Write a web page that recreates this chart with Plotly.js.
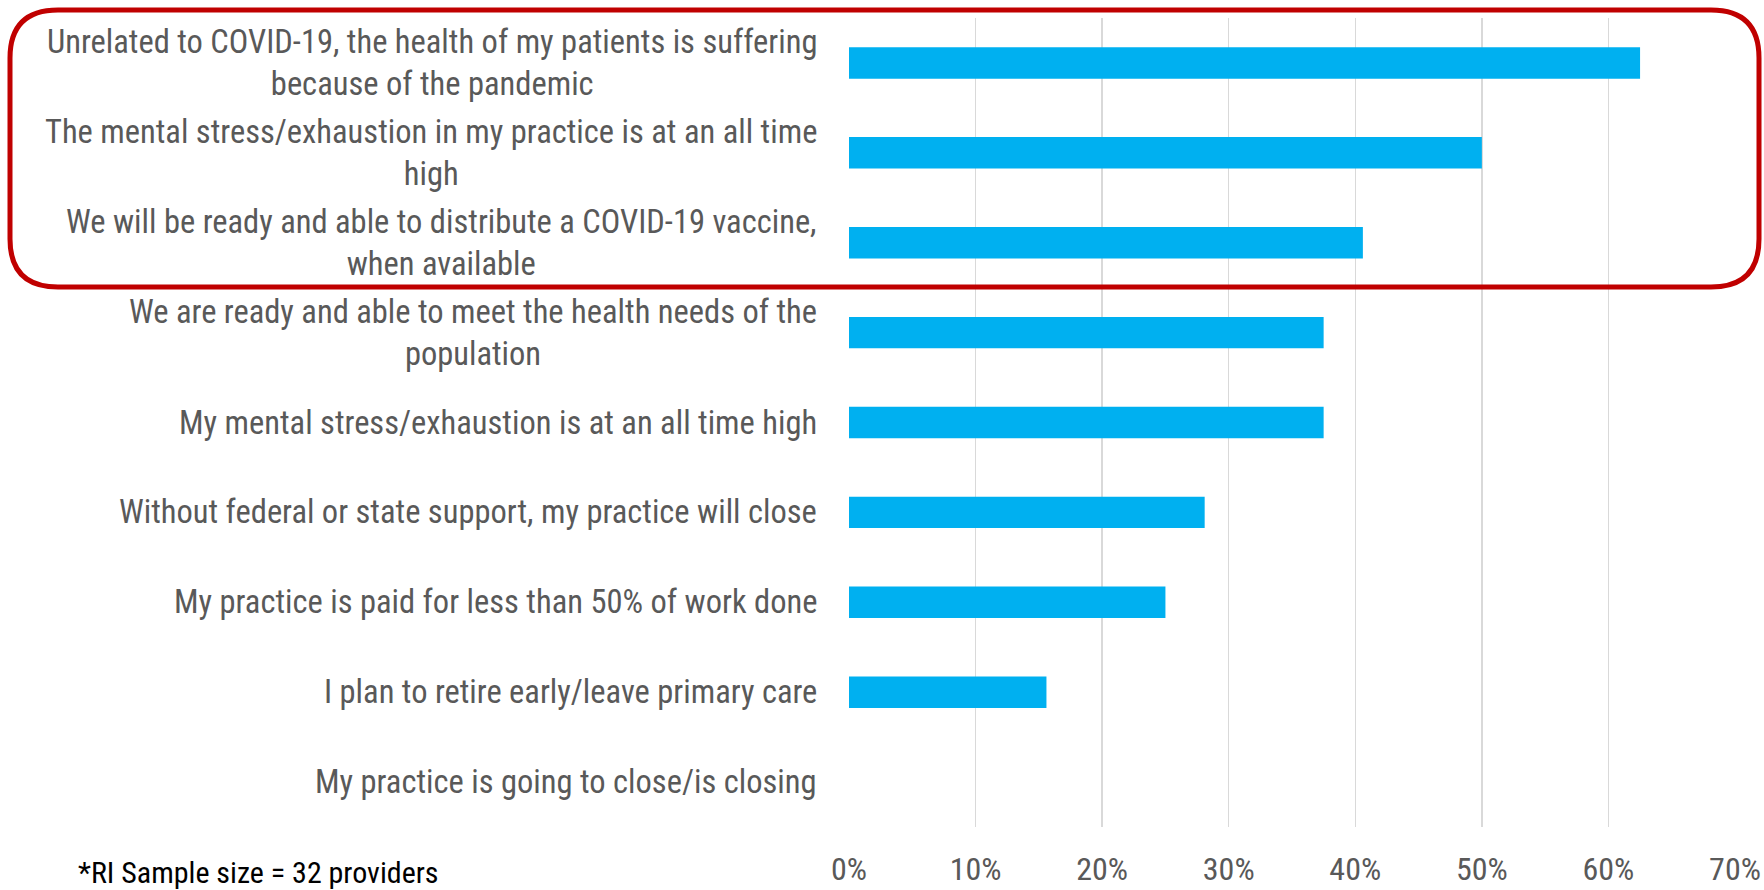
<!DOCTYPE html>
<html>
<head>
<meta charset="utf-8">
<script src="https://cdn.plot.ly/plotly-3.0.1.min.js"></script>
<style>html,body{margin:0;padding:0;background:#fff;}#chart{width:1764px;height:890px;}</style>
</head>
<body>
<div id="chart"></div>
<script>
const categories = [
  "Unrelated to COVID-19, the health of my patients is suffering<br>because of the pandemic",
  "The mental stress/exhaustion in my practice is at an all time<br>high",
  "We will be ready and able to distribute a COVID-19 vaccine,<br>when available",
  "We are ready and able to meet the health needs of the<br>population",
  "My mental stress/exhaustion is at an all time high",
  "Without federal or state support, my practice will close",
  "My practice is paid for less than 50% of work done",
  "I plan to retire early/leave primary care",
  "My practice is going to close/is closing"
];
const percentValues = [62.5, 50, 40.6, 37.5, 37.5, 28.1, 25, 15.6, 0];
const xTickValues = [0, 10, 20, 30, 40, 50, 60, 70];
const xTickLabels = ["0%", "10%", "20%", "30%", "40%", "50%", "60%", "70%"];
const footnote = "*RI Sample size = 32 providers";

const W = 1764, H = 890;
const M = {l: 849, r: 29, t: 18, b: 63};
const PW = W - M.l - M.r, PH = H - M.t - M.b;
const FONT = "'Roboto Condensed', 'Liberation Sans Narrow', 'Arial Narrow', sans-serif";

function px2x(px) { return (px - M.l) / PW; }
function px2y(py) { return (H - M.b - py) / PH; }
function roundedBox(x0, y0, x1, y1, r) {
  const X = px2x, Y = px2y;
  return `M ${X(x0 + r)},${Y(y0)} L ${X(x1 - r)},${Y(y0)} Q ${X(x1)},${Y(y0)} ${X(x1)},${Y(y0 + r)} ` +
         `L ${X(x1)},${Y(y1 - r)} Q ${X(x1)},${Y(y1)} ${X(x1 - r)},${Y(y1)} ` +
         `L ${X(x0 + r)},${Y(y1)} Q ${X(x0)},${Y(y1)} ${X(x0)},${Y(y1 - r)} ` +
         `L ${X(x0)},${Y(y0 + r)} Q ${X(x0)},${Y(y0)} ${X(x0 + r)},${Y(y0)} Z`;
}

const trace = {
  type: 'bar',
  orientation: 'h',
  x: percentValues,
  y: categories,
  marker: {color: '#00B0F0', line: {width: 0}},
  hoverinfo: 'x+y'
};

const annotations = categories.map(c => ({
  xref: 'paper', yref: 'y', x: 0, y: c, xshift: -30,
  xanchor: 'right', yanchor: 'middle', align: 'center',
  text: c, showarrow: false,
  font: {family: FONT, size: 32.5, color: '#595959'}
}));
annotations.push({
  xref: 'paper', yref: 'paper', x: px2x(76), y: px2y(872),
  xanchor: 'left', yanchor: 'middle', align: 'left',
  text: footnote, showarrow: false,
  font: {family: FONT, size: 30, color: '#000000'}
});

const layout = {
  width: W, height: H,
  margin: M,
  paper_bgcolor: '#ffffff', plot_bgcolor: '#ffffff',
  showlegend: false,
  bargap: 0.65,
  xaxis: {
    range: [0, 70], tickvals: xTickValues, ticktext: xTickLabels,
    showgrid: true, gridcolor: '#D9D9D9', gridwidth: 1.5,
    zeroline: false, showline: false, ticks: '',
    ticklabelstandoff: 20,
    tickfont: {family: FONT, size: 32, color: '#595959'},
    fixedrange: true
  },
  yaxis: {
    type: 'category', autorange: 'reversed',
    showticklabels: false, showgrid: false, zeroline: false, showline: false, ticks: '',
    fixedrange: true
  },
  annotations: annotations,
  shapes: [{
    type: 'path', xref: 'paper', yref: 'paper', layer: 'above',
    path: roundedBox(10, 10, 1759, 287, 48),
    line: {color: '#C00000', width: 5},
    fillcolor: 'rgba(0,0,0,0)'
  }]
};

Plotly.newPlot('chart', [trace], layout, {displayModeBar: false, staticPlot: true});
</script>
</body>
</html>
